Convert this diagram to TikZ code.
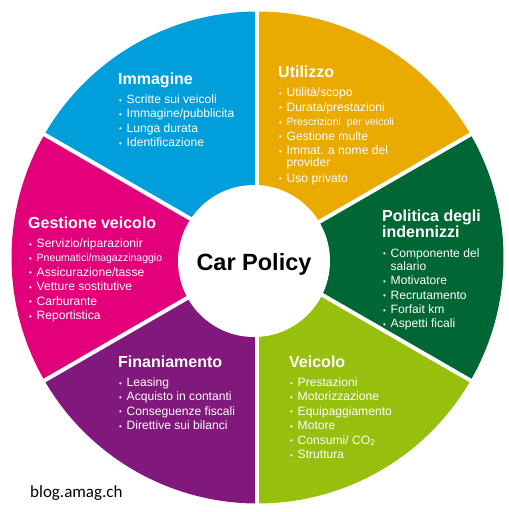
\documentclass[tikz,border=0pt]{standalone}
\usepackage{fontspec}
\setmainfont{Liberation Sans}
\newfontfamily\blogfont{Carlito}
\definecolor{imgblue}{RGB}{0,158,219}
\definecolor{utilyellow}{RGB}{235,170,0}
\definecolor{polgreen}{RGB}{0,102,51}
\definecolor{veigreen}{RGB}{151,191,13}
\definecolor{finpurple}{RGB}{128,25,123}
\definecolor{gespink}{RGB}{226,0,122}
\newcommand{\segtitle}[1]{\multicolumn{2}{@{}l@{}}{\fontsize{16}{17}\selectfont\bfseries #1}}
\newcommand{\bul}{\makebox[8.5pt][l]{\hspace{1pt}\raisebox{0.4pt}{\fontsize{8}{8}\selectfont\textbullet}}}
\newcommand{\smallitem}{\fontsize{10.5}{14.4}\selectfont}
\begin{document}
\begin{tikzpicture}[x=1pt,y=1pt,
  seglist/.style={anchor=base west, inner sep=0pt, text=white,
    font=\fontsize{12.1}{14.4}\selectfont}]
  \useasboundingbox[fill=white] (-257.5,-254.5) rectangle (251.5,257.5);
  % Sectors
  \foreach \a/\b/\c in {90/30/utilyellow, 30/-30/polgreen, -30/-90/veigreen,
    -90/-150/finpurple, 210/150/gespink, 150/90/imgblue}
    \fill[\c] (0,0) -- (\a:246) arc[start angle=\a, end angle=\b, radius=246] -- cycle;
  % Gaps
  \foreach \a in {90,30,-30,-90,-150,150}
    \draw[white, line width=4] (0,0) -- (\a:250);
  % Hub
  \fill[white] (-3.5,-3.5) circle (76);
  \node[anchor=base, inner sep=0pt, font=\fontsize{23.5}{24}\selectfont\bfseries]
    (hub) at (-3.5,-12.5) {Car Policy};
  % Segments
  \node[seglist] (immagine) at (-139.5,173.5) {\begin{tabular}[t]{@{}l@{}l@{}}
    \segtitle{Immagine}\\[5pt]
    \bul & Scritte sui veicoli\\
    \bul & Immagine/pubblicita\\
    \bul & Lunga durata\\
    \bul & Identificazione
  \end{tabular}};
  \node[seglist] (utilizzo) at (20.5,180) {\begin{tabular}[t]{@{}l@{}l@{}}
    \segtitle{Utilizzo}\\[5pt]
    \bul & Utilità/scopo\\
    \bul & Durata/prestazioni\\
    \bul & \smallitem Prescrizioni\ \ per veicoli\\
    \bul & Gestione multe\\
    \bul & Immat. a nome del\\[-2pt]
         & provider\\[0.8pt]
    \bul & Uso privato
  \end{tabular}};
  \node[seglist] (politica) at (124.5,36.5) {\begin{tabular}[t]{@{}l@{}l@{}}
    \segtitle{Politica degli}\\[1pt]
    \segtitle{indennizzi}\\[5pt]
    \bul & Componente del\\[-1.5pt]
         & salario\\
    \bul & Motivatore\\
    \bul & Recrutamento\\
    \bul & Forfait km\\
    \bul & Aspetti ficali
  \end{tabular}};
  \node[seglist] (gestione) at (-229.5,29.5) {\begin{tabular}[t]{@{}l@{}l@{}}
    \segtitle{Gestione veicolo}\\[5pt]
    \bul & Servizio/riparazionir\\
    \bul & \smallitem Pneumatici/magazzinaggio\\
    \bul & Assicurazione/tasse\\
    \bul & Vetture sostitutive\\
    \bul & Carburante\\
    \bul & Reportistica
  \end{tabular}};
  \node[seglist] (finanz) at (-139.5,-109.5) {\begin{tabular}[t]{@{}l@{}l@{}}
    \segtitle{Finaniamento}\\[5pt]
    \bul & Leasing\\
    \bul & Acquisto in contanti\\
    \bul & Conseguenze fiscali\\
    \bul & Direttive sui bilanci
  \end{tabular}};
  \node[seglist] (veicolo) at (31.5,-109.5) {\begin{tabular}[t]{@{}l@{}l@{}}
    \segtitle{Veicolo}\\[5pt]
    \bul & Prestazioni\\
    \bul & Motorizzazione\\
    \bul & Equipaggiamento\\
    \bul & Motore\\
    \bul & Consumi/ CO\textsubscript{2}\\
    \bul & Struttura
  \end{tabular}};
  % Source
  \node[anchor=base west, inner sep=0pt, font=\blogfont\fontsize{17}{18}\selectfont]
    (blog) at (-227.5,-240) {blog.amag.ch};
\end{tikzpicture}
\end{document}
